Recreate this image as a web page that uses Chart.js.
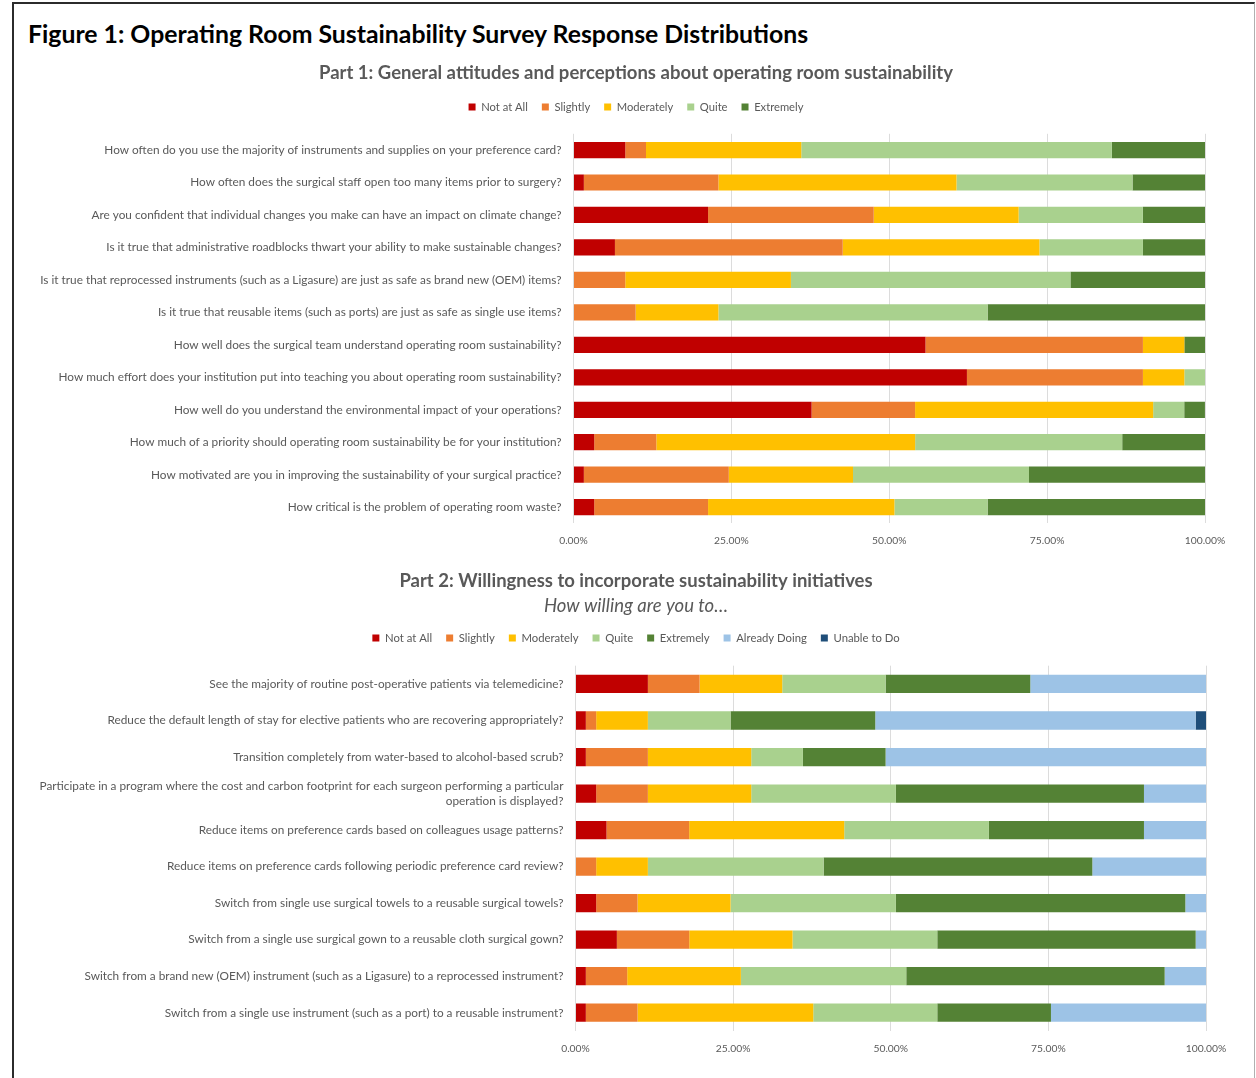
<!DOCTYPE html>
<html>
<head>
<meta charset="utf-8">
<title>Operating Room Sustainability Survey</title>
<script src="https://cdn.jsdelivr.net/npm/chart.js@4.4.1/dist/chart.umd.min.js"></script>
<style>
    body { margin: 0; background: #fff; width: 1256px; height: 1078px; overflow: hidden; position: relative; font-family: Lato, "Open Sans", sans-serif; }
    #frame { position: absolute; left: 12px; top: 2px; width: 1240px; height: 1100px; border-top: 2px solid #2b2b2b; border-left: 2px solid #2b2b2b; border-right: 1px solid #b0b0b0; }
    #figTitle { position: absolute; left: 28px; top: 20px; font-weight: bold; font-size: 24.8px; line-height: 28px; color: #000; white-space: nowrap; }
    .box { position: absolute; left: 20px; width: 1232px; }
    #box1 { top: 55px; height: 505px; }
    #box2 { top: 566px; height: 501px; }
</style>
</head>
<body>
<div id="frame"></div>
<div id="figTitle">Figure 1: Operating Room Sustainability Survey Response Distributions</div>
<div class="box" id="box1"><canvas id="partOne"></canvas></div>
<div class="box" id="box2"><canvas id="partTwo"></canvas></div>

<script>
// response scales
const levels1 = ["Not at All", "Slightly", "Moderately", "Quite", "Extremely"];
const levels2 = ["Not at All", "Slightly", "Moderately", "Quite", "Extremely", "Already Doing", "Unable to Do"];
const levelColors = ["#C00000", "#ED7D31", "#FFC000", "#A9D18E", "#548235", "#9DC3E6", "#1F4E79"];

// part 1 questions, top to bottom
const questions1 = [
    "How often do you use the majority of instruments and supplies on your preference card?",
    "How often does the surgical staff open too many items prior to surgery?",
    "Are you confident that individual changes you make can have an impact on climate change?",
    "Is it true that administrative roadblocks thwart your ability to make sustainable changes?",
    "Is it true that reprocessed instruments (such as a Ligasure) are just as safe as brand new (OEM) items?",
    "Is it true that reusable items (such as ports) are just as safe as single use items?",
    "How well does the surgical team understand operating room sustainability?",
    "How much effort does your institution put into teaching you about operating room sustainability?",
    "How well do you understand the environmental impact of your operations?",
    "How much of a priority should operating room sustainability be for your institution?",
    "How motivated are you in improving the sustainability of your surgical practice?",
    "How critical is the problem of operating room waste?"
];

// part 1 response shares (%)
const notAtAll1   = [8.20, 1.64, 21.31, 6.56, 0, 0, 55.74, 62.30, 37.70, 3.28, 1.64, 3.28];
const slightly1   = [3.28, 21.31, 26.23, 36.07, 8.20, 9.84, 34.43, 27.87, 16.39, 9.84, 22.95, 18.03];
const moderately1 = [24.59, 37.70, 22.95, 31.15, 26.23, 13.11, 6.56, 6.56, 37.70, 40.98, 19.67, 29.51];
const quite1      = [49.18, 27.87, 19.67, 16.39, 44.26, 42.62, 0, 3.28, 4.92, 32.79, 27.87, 14.75];
const extremely1  = [14.75, 11.48, 9.84, 9.84, 21.31, 34.43, 3.28, 0, 3.28, 13.11, 27.87, 34.43];

// part 2 initiatives, top to bottom
const questions2 = [
    "See the majority of routine post-operative patients via telemedicine?",
    "Reduce the default length of stay for elective patients who are recovering appropriately?",
    "Transition completely from water-based to alcohol-based scrub?",
    ["Participate in a program where the cost and carbon footprint for each surgeon performing a particular",
     "operation is displayed?"],
    "Reduce items on preference cards based on colleagues usage patterns?",
    "Reduce items on preference cards following periodic preference card review?",
    "Switch from single use surgical towels to a reusable surgical towels?",
    "Switch from a single use surgical gown to a reusable cloth surgical gown?",
    "Switch from a brand new (OEM) instrument (such as a Ligasure) to a reprocessed instrument?",
    "Switch from a single use instrument (such as a port) to a reusable instrument?"
];

// part 2 response shares (%)
const notAtAll2   = [11.48, 1.64, 1.64, 3.28, 4.92, 0, 3.28, 6.56, 1.64, 1.64];
const slightly2   = [8.20, 1.64, 9.84, 8.20, 13.11, 3.28, 6.56, 11.48, 6.56, 8.20];
const moderately2 = [13.11, 8.20, 16.39, 16.39, 24.59, 8.20, 14.75, 16.39, 18.03, 27.87];
const quite2      = [16.39, 13.11, 8.20, 22.95, 22.95, 27.87, 26.23, 22.95, 26.23, 19.67];
const extremely2  = [22.95, 22.95, 13.11, 39.34, 24.59, 42.62, 45.90, 40.98, 40.98, 18.03];
const already2    = [27.87, 50.82, 50.82, 9.84, 9.84, 18.03, 3.28, 1.64, 6.56, 24.59];
const unable2     = [0, 1.64, 0, 0, 0, 0, 0, 0, 0, 0];

const tickValues = [0, 25, 50, 75, 100];

const FONT = "Lato, 'Open Sans', sans-serif";
const GREY = "#595959";

function buildDatasets(levels, series) {
    return levels.map((name, i) => ({
        label: name,
        data: series[i],
        backgroundColor: levelColors[i],
        borderWidth: 0,
        xAxisID: "x",
        yAxisID: "y",
        categoryPercentage: 1,
        barPercentage: 0.5
    }));
}

// blank axis used only to reserve room on one side of the plot
function spacer(axis, position, size) {
    return {
        axis: axis,
        type: "linear",
        position: position,
        display: true,
        afterFit: scale => {
            if (axis === "x") scale.height = size; else scale.width = size;
        },
        grid: { display: false, drawTicks: false },
        border: { display: false },
        ticks: { display: false }
    };
}

function stackedOptions(cfg) {
    return {
        indexAxis: "y",
        responsive: true,
        maintainAspectRatio: false,
        animation: false,
        layout: { padding: 0 },
        scales: {
            x: {
                stacked: true,
                min: 0,
                max: 100,
                position: "bottom",
                afterBuildTicks: scale => { scale.ticks = tickValues.map(v => ({ value: v })); },
                afterFit: scale => { scale.height = cfg.axisHeight; },
                grid: { color: "#dcdcdc", lineWidth: 1, drawTicks: false },
                border: { display: false },
                ticks: {
                    padding: cfg.tickPad,
                    color: GREY,
                    font: { size: 10.3, family: FONT },
                    callback: v => v.toFixed(2) + "%"
                }
            },
            y: {
                stacked: true,
                afterFit: scale => { scale.width = cfg.labelWidth; },
                grid: { display: false, drawTicks: false },
                border: { display: false },
                ticks: {
                    padding: 12,
                    color: GREY,
                    autoSkip: false,
                    font: { size: 11.8, family: FONT, lineHeight: 1.3 }
                }
            },
            gapTop: spacer("x", "top", cfg.gap),
            gapRight: spacer("y", "right", cfg.rightPad)
        },
        plugins: {
            title: {
                display: true,
                text: cfg.title,
                color: GREY,
                font: { size: 18.5, weight: "bold", family: FONT },
                padding: cfg.titlePad
            },
            subtitle: cfg.subtitle ? {
                display: true,
                text: cfg.subtitle,
                color: GREY,
                font: { size: 18.5, style: "italic", family: FONT },
                padding: cfg.subtitlePad
            } : { display: false },
            legend: {
                position: "top",
                labels: {
                    boxWidth: 7,
                    boxHeight: 7,
                    padding: 14,
                    color: GREY,
                    font: { size: cfg.legendSize, family: FONT }
                }
            },
            tooltip: { enabled: false }
        }
    };
}

new Chart(document.getElementById("partOne"), {
    type: "bar",
    data: {
        labels: questions1,
        datasets: buildDatasets(levels1, [notAtAll1, slightly1, moderately1, quite1, extremely1])
    },
    options: stackedOptions({
        title: "Part 1: General attitudes and perceptions about operating room sustainability",
        titlePad: { top: 6.9, bottom: 3.3 },
        legendSize: 11.2,
        gap: 11.2,
        labelWidth: 553.5,
        rightPad: 47,
        axisHeight: 36.6,
        tickPad: 11
    })
});

new Chart(document.getElementById("partTwo"), {
    type: "bar",
    data: {
        labels: questions2,
        datasets: buildDatasets(levels2, [notAtAll2, slightly2, moderately2, quite2, extremely2, already2, unable2])
    },
    options: stackedOptions({
        title: "Part 2: Willingness to incorporate sustainability initiatives",
        titlePad: { top: 3.9, bottom: 0 },
        subtitle: "How willing are you to…",
        subtitlePad: { top: 2.8, bottom: 1.25 },
        legendSize: 11.3,
        gap: 12.05,
        labelWidth: 555.5,
        rightPad: 46,
        axisHeight: 36,
        tickPad: 11
    })
});
</script>
</body>
</html>
